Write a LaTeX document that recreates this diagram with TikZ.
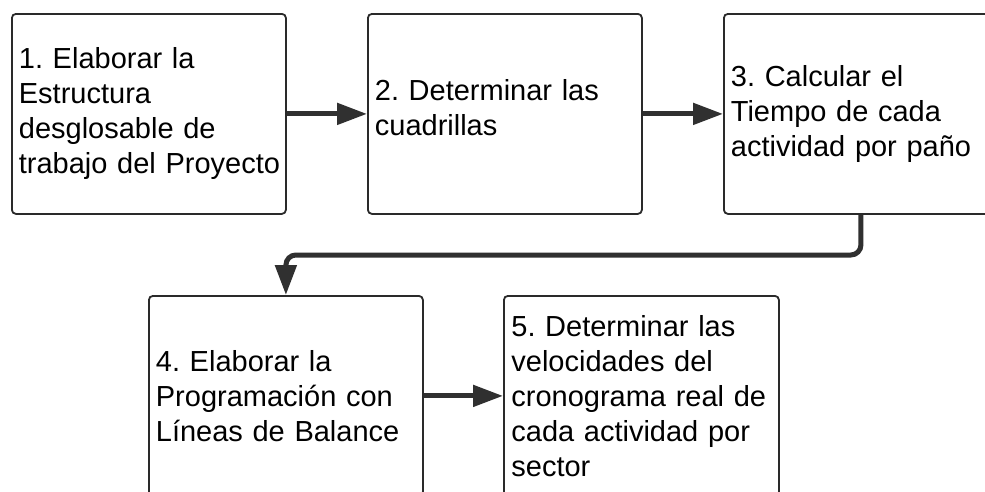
\documentclass[tikz,border=0pt]{standalone}
\usepackage{fontspec}
\setmainfont{Liberation Sans}
\usetikzlibrary{arrows.meta}
\definecolor{edge}{HTML}{2A2A2A}
\definecolor{conn}{HTML}{303030}
\tikzset{
  stepbox/.style={draw=edge, line width=1.8pt, rounded corners=4pt, fill=white,
    anchor=north west, minimum width=274pt, minimum height=200pt,
    inner xsep=7pt, inner ysep=0pt, text width=260pt, align=left,
    font=\fontsize{29}{35}\selectfont\frenchspacing},
  flow/.style={draw=conn, line width=5pt,
    -{Triangle[length=30pt,width=21pt]}},
}
\begin{document}
\begin{tikzpicture}[x=1pt,y=-1pt]
  \clip (0,0) rectangle (985,491);
  \fill[white] (0,0) rectangle (985,491);

  % process steps
  \node[stepbox] (b1) at (11,13) {1. Elaborar la\\Estructura\\desglosable de\\trabajo~del~Proyecto};
  \node[stepbox] (b2) at (367,13) {2. Determinar las\\cuadrillas\\[-23pt]\mbox{}};
  \node[stepbox] (b3) at (723,13) {3. Calcular el\\Tiempo de cada\\actividad por paño};
  \node[stepbox] (b4) at (148,295) {4. Elaborar la\\Programación con\\Líneas de Balance};
  \node[stepbox, minimum width=275pt] (b5) at (503,295) {5. Determinar las\\velocidades del\\cronograma real de\\cada actividad por\\sector};

  % connectors
  \coordinate (turn) at (0,255);
  \draw[flow] (b1) -- (b2);
  \draw[flow] (b2) -- (b3);
  \draw[flow, rounded corners=10pt] (b3.south) -- (b3.south |- turn) -| (b4.north);
  \draw[flow] (b4) -- (b5);
\end{tikzpicture}
\end{document}
